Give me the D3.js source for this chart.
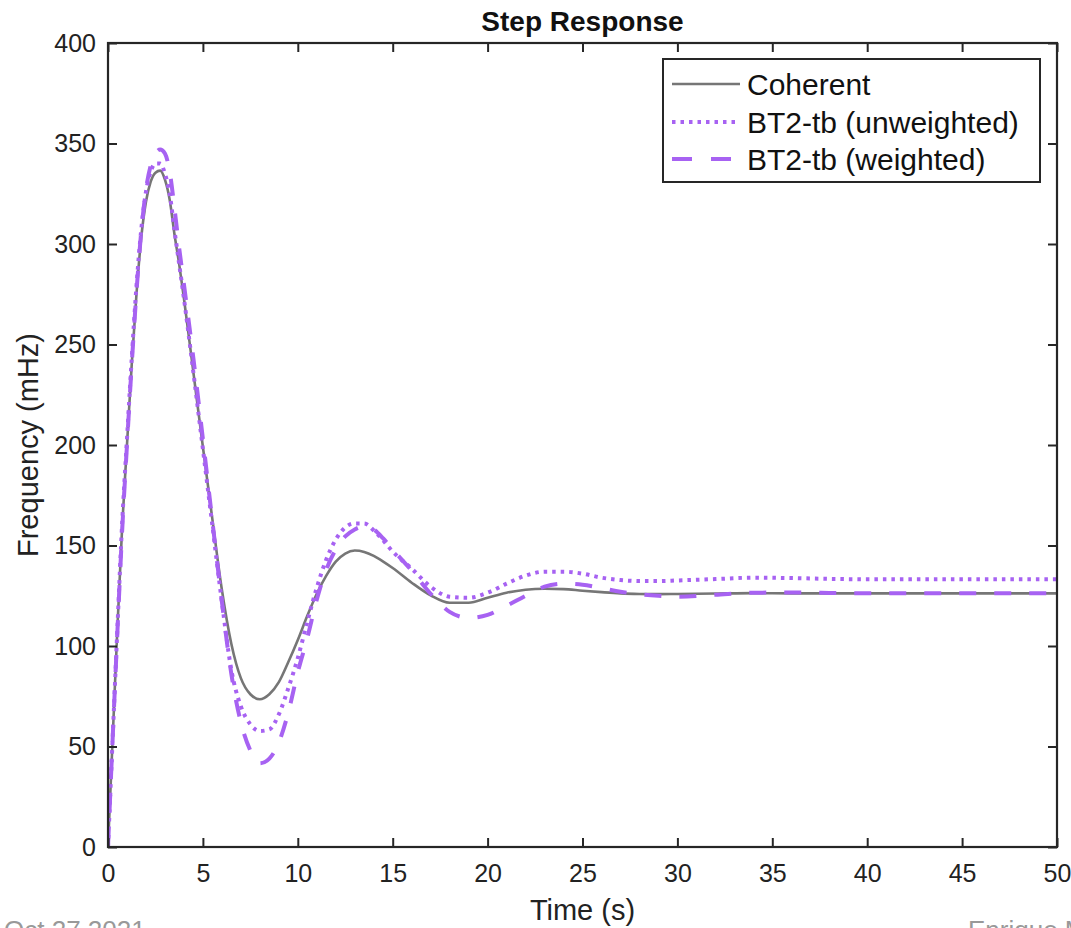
<!DOCTYPE html>
<html>
<head>
<meta charset="utf-8">
<script src="https://cdn.jsdelivr.net/npm/d3@7"></script>
<style>
  html, body { margin: 0; padding: 0; background: #fff; }
  svg { display: block; font-family: "Liberation Sans", Arial, Helvetica, sans-serif; }
</style>
</head>
<body>
<svg id="chart" width="1071" height="928"></svg>
<script>
// ---- data ----
const time = [0, 0.25, 0.5, 0.75, 1, 1.25, 1.5, 1.75, 2, 2.25, 2.5, 2.75, 3, 3.25, 3.5, 3.75, 4, 4.5, 5, 5.5, 6, 6.5, 7, 7.5, 8, 8.5, 9, 9.5, 10, 10.5, 11, 11.5, 12, 12.5, 13, 13.5, 14, 14.5, 15, 16, 17, 18, 19, 20, 21, 22, 23, 24, 25, 26, 27, 28, 29, 30, 32, 34, 36, 38, 40, 42, 44, 46, 48, 50];
const coherent = [0, 55, 110, 160, 200, 240, 275, 303, 321, 331, 335.5, 336.5, 332, 322, 305, 290, 273, 236, 199, 163, 128, 101, 84, 76, 73.5, 76, 82, 92, 103, 115, 126, 135, 142, 146, 147.5, 146.8, 144.8, 142, 138.8, 131.5, 125.2, 121.5, 121.5, 124, 126.5, 128, 128.5, 128.3, 127.5, 126.8, 126.2, 125.9, 125.8, 125.9, 126.1, 126.3, 126.2, 126.2, 126.2, 126.2, 126.2, 126.2, 126.2, 126.2];
const unweighted = [0, 55, 110, 162, 203, 243, 279, 307, 326, 336, 340, 340, 335, 325, 307, 290, 273, 236, 198, 160, 122, 88, 70, 61, 57.7, 58.5, 66, 79, 94, 112, 129, 143, 153, 159, 161, 161, 157.5, 152.5, 147, 138.5, 129.5, 124.5, 124, 126.5, 131, 135, 137, 137, 136, 134, 132.8, 132.3, 132.3, 132.6, 133.3, 134, 133.8, 133.4, 133.2, 133.2, 133.2, 133.2, 133.2, 133.2];
const weighted = [0, 55, 108, 158, 200, 240, 276, 306, 327, 339, 345, 347, 345, 336, 318, 298, 280, 243, 203, 162, 122, 86, 62, 48, 41.6, 44, 52, 67, 87, 104, 123, 138, 148, 154.5, 158, 159.5, 158, 153.5, 148, 137.5, 126, 117, 114, 115.5, 120, 125, 129.5, 131, 130.5, 128.8, 127, 125.8, 125, 124.5, 125.5, 126.5, 126.6, 126.4, 126.2, 126.2, 126.2, 126.2, 126.2, 126.2];
const xTicks = [0, 5, 10, 15, 20, 25, 30, 35, 40, 45, 50];
const yTicks = [0, 50, 100, 150, 200, 250, 300, 350, 400];
const seriesNames = ["Coherent", "BT2-tb (unweighted)", "BT2-tb (weighted)"];

// ---- layout ----
const svg = d3.select("#chart");
const L = 108, R = 1057, T = 43, B = 847;
const x = d3.scaleLinear().domain([0, 50]).range([L, R]);
const y = d3.scaleLinear().domain([0, 400]).range([B, T]);
const axisColor = "#262626";
const purple = "#a762f2";
const grey = "#767676";

const styles = [
  { color: grey, width: 2.6, dash: null },
  { color: purple, width: 4, dash: "3.5,5" },
  { color: purple, width: 4, dash: "17,18" }
];
const data = [coherent, unweighted, weighted];

// clip
svg.append("defs").append("clipPath").attr("id", "clip")
  .append("rect").attr("x", L).attr("y", T).attr("width", R - L).attr("height", B - T);

const line = d3.line().x((d, i) => x(time[i])).y(d => y(d)).curve(d3.curveMonotoneX);
const plot = svg.append("g").attr("clip-path", "url(#clip)");
data.forEach((vals, k) => {
  plot.append("path")
    .attr("d", line(vals))
    .attr("fill", "none")
    .attr("stroke", styles[k].color)
    .attr("stroke-width", styles[k].width)
    .attr("stroke-dasharray", styles[k].dash)
    .attr("stroke-linejoin", "round");
});

// axes (ticks inside, all four sides)
const tickLen = 9;
const fontSize = 25;
const xb = svg.append("g").attr("transform", `translate(0,${B})`)
  .call(d3.axisBottom(x).tickValues(xTicks).tickSizeInner(-tickLen).tickSizeOuter(0).tickFormat(d3.format("d")));
const xt = svg.append("g").attr("transform", `translate(0,${T})`)
  .call(d3.axisTop(x).tickValues(xTicks).tickSizeInner(-tickLen).tickSizeOuter(0).tickFormat(""));
const yl = svg.append("g").attr("transform", `translate(${L},0)`)
  .call(d3.axisLeft(y).tickValues(yTicks).tickSizeInner(-tickLen).tickSizeOuter(0).tickPadding(12).tickFormat(d3.format("d")));
const yr = svg.append("g").attr("transform", `translate(${R},0)`)
  .call(d3.axisRight(y).tickValues(yTicks).tickSizeInner(-tickLen).tickSizeOuter(0).tickFormat(""));
[xb, xt, yl, yr].forEach(g => {
  g.select(".domain").remove();
  g.selectAll("line").attr("stroke", axisColor).attr("stroke-width", 2);
  g.selectAll("text").attr("fill", "#222").style("font-size", fontSize + "px").style("font-family", "'Liberation Sans', Arial, sans-serif");
});
xb.selectAll("text").attr("y", 35).attr("dy", 0);
svg.append("rect").attr("x", L).attr("y", T).attr("width", R - L).attr("height", B - T)
  .attr("fill", "none").attr("stroke", axisColor).attr("stroke-width", 2.2);

// titles
svg.append("text").attr("x", (L + R) / 2).attr("y", 31).attr("text-anchor", "middle")
  .style("font-size", "28px").style("font-weight", "bold").attr("fill", "#111").text("Step Response");
svg.append("text").attr("x", (L + R) / 2).attr("y", 920).attr("text-anchor", "middle")
  .style("font-size", "29px").attr("fill", "#222").text("Time (s)");
svg.append("text").attr("transform", `translate(38,${(T + B) / 2}) rotate(-90)`).attr("text-anchor", "middle")
  .style("font-size", "29px").attr("fill", "#222").text("Frequency (mHz)");

// legend
const lg = svg.append("g");
lg.append("rect").attr("x", 663).attr("y", 59).attr("width", 377).attr("height", 123)
  .attr("fill", "#fff").attr("stroke", axisColor).attr("stroke-width", 2);
const rowY = [84, 122, 159];
seriesNames.forEach((name, k) => {
  lg.append("line").attr("x1", 672).attr("x2", 740).attr("y1", rowY[k]).attr("y2", rowY[k])
    .attr("stroke", styles[k].color).attr("stroke-width", styles[k].width)
    .attr("stroke-dasharray", k === 2 ? "20,19" : styles[k].dash);
  lg.append("text").attr("x", 747).attr("y", rowY[k]).attr("dy", "0.35em")
    .style("font-size", "30px").attr("fill", "#111").text(name);
});

// footer (partially cut off at the page edge, as in the reference)
svg.append("text").attr("x", 4).attr("y", 939).style("font-size", "26px").attr("fill", "#999").text("Oct 27 2021");
svg.append("text").attr("x", 968).attr("y", 939).style("font-size", "26px").attr("fill", "#999").text("Enrique M");
</script>
</body>
</html>
